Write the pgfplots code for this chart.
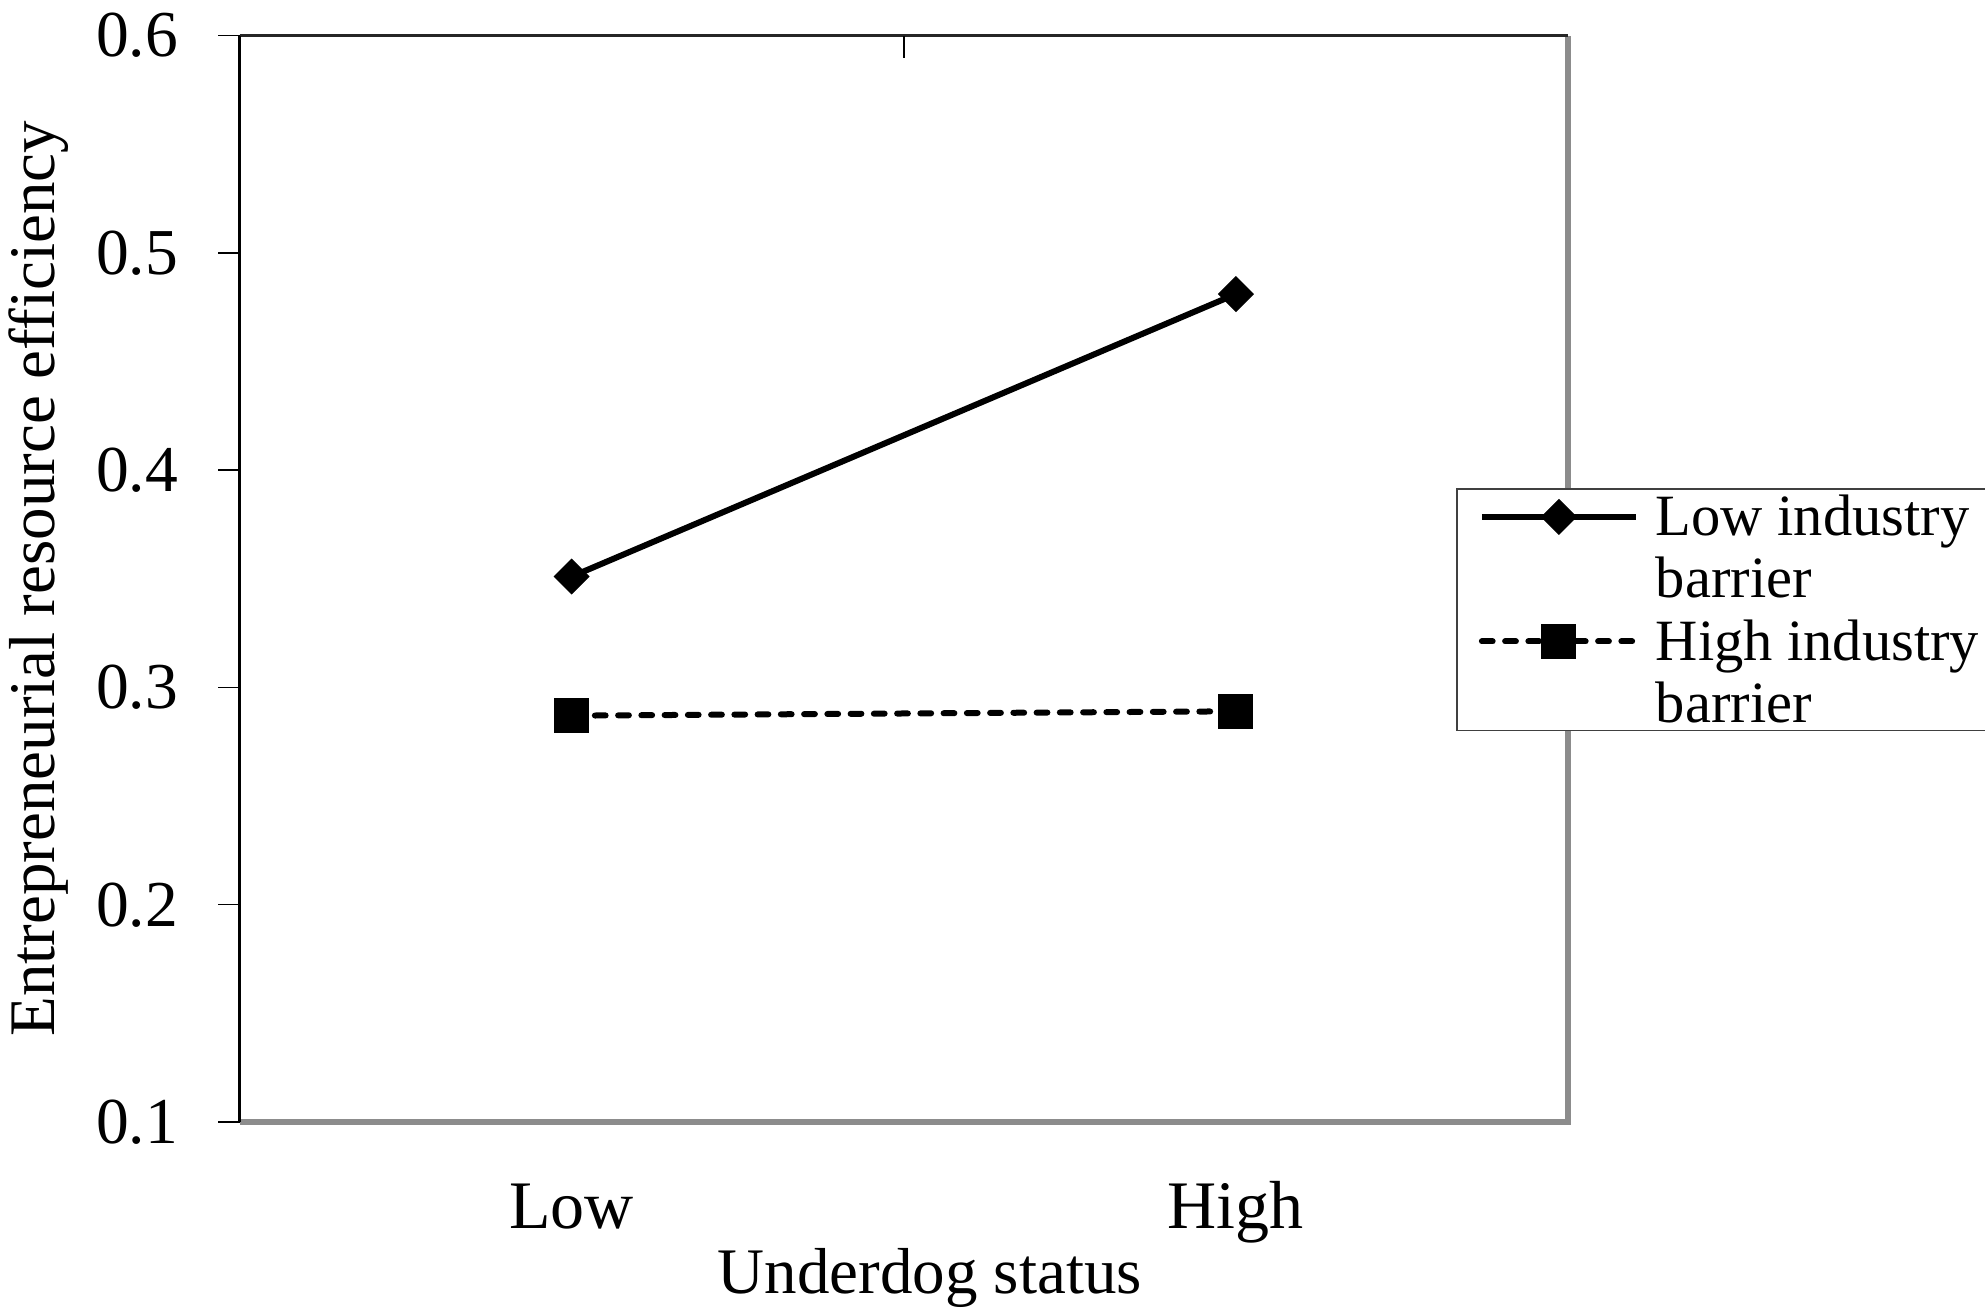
\documentclass[border=0pt]{standalone}
\usepackage{fontspec}
\setmainfont{Liberation Serif}
\usepackage{pgfplots}
\pgfplotsset{compat=1.18}
\definecolor{bordergray}{HTML}{8C8C8C}
\begin{document}
\begin{tikzpicture}
\useasboundingbox (0,0) rectangle (794pt,525.2pt);
\begin{axis}[
  at={(95.8pt,76.4pt)}, anchor=south west,
  scale only axis, width=531.4pt, height=434.6pt,
  xmin=-0.5, xmax=1.5, ymin=0.1, ymax=0.6,
  clip=false,
  axis line style={draw=none},
  xtick={0,1}, xticklabels={Low,High},
  major x tick style={draw=none},
  ytick={0.1,0.2,0.3,0.4,0.5,0.6},
  ytick pos=left, xtick pos=bottom,
  y tick style={black, line width=0.6pt},
  major tick length=8.4pt,
  tick align=outside,
  /pgf/number format/assume math mode=true,
  yticklabel style={font=\fontsize{26.2}{30}\selectfont,
    /pgf/number format/fixed, /pgf/number format/precision=1,
    /pgf/number format/fixed zerofill, inner sep=0pt, anchor=east, xshift=-16pt},
  xticklabel style={font=\fontsize{27.2}{32}\selectfont, anchor=base, yshift=-34pt},
  xlabel={Underdog status},
  ylabel={Entrepreneurial resource efficiency},
  label style={font=\fontsize{26}{30}\selectfont},
  xlabel style={at={(axis description cs:0.5196,-0.1574)}, anchor=base},
  ylabel style={at={(axis description cs:-0.1389,0.5)}, anchor=base},
  legend style={
    at={(axis description cs:0.9157,0.5835)}, anchor=north west,
    draw=black!75, line width=0.7pt, fill=white,
    inner xsep=4pt, inner ysep=3pt,
    row sep=9pt, column sep=6.8pt,
    font=\fontsize{23.4}{24.8}\selectfont,
    nodes={inner sep=0pt, text depth={}, text height=15.8pt},
    cells={anchor=base west},
  },
  legend image code/.code={
    \path (0pt,0pt);
    \draw[mark repeat=2, mark phase=2, #1]
      plot coordinates {(4.8pt,7.6pt) (35.6pt,7.6pt) (66.4pt,7.6pt)};
  },
]
\addplot[black, line width=2.4pt, mark=square*, mark size=4.9pt,
  mark options={solid, rotate=45, line width=0.4pt, fill=black}]
  coordinates {(0,0.351) (1,0.481)};
\addlegendentry{\vtop{\hbox{Low industry}\hbox{barrier}}}
\addplot[black, line width=2.4pt, line cap=round, dash pattern=on 4.3pt off 5pt,
  mark=square*, mark size=6.8pt,
  mark options={solid, line width=0.4pt, fill=black}]
  coordinates {(0,0.287) (1,0.289)};
\addlegendentry{\vtop{\hbox{High industry}\hbox{barrier}}}
\draw[bordergray, line width=2.4pt] (rel axis cs:0,0) -- (rel axis cs:1,0) -- (rel axis cs:1,1);
\draw[black!85, line width=1.1pt] (rel axis cs:0,1) -- (rel axis cs:1,1);
\draw[black, line width=1pt] (rel axis cs:0,0) -- (rel axis cs:0,1);
\draw[black, line width=0.8pt] (axis cs:0.5,0.6) -- ++(0pt,-8.8pt);
\end{axis}
\end{tikzpicture}
\end{document}
